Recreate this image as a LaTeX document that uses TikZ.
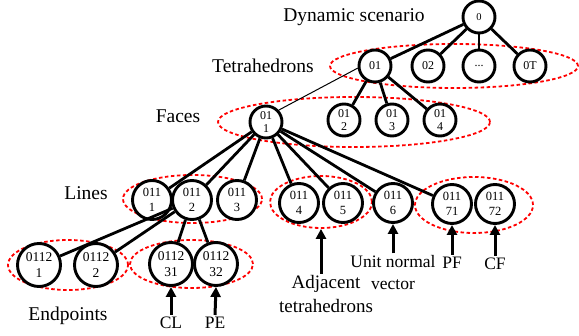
\documentclass[tikz,border=0pt]{standalone}
\usepackage{fontspec}
\setmainfont{Liberation Serif}
\usetikzlibrary{shapes.geometric,arrows.meta}

\begin{document}
\begin{tikzpicture}[x=1pt,y=-1pt,
  tn/.style={circle,draw,line width=2.9pt,fill=white,inner sep=0pt,align=center},
  small/.style={tn,minimum size=32pt,font=\fontsize{12}{13.5}\selectfont},
  mid/.style={tn,minimum size=39pt,font=\fontsize{12.5}{14.5}\selectfont},
  big/.style={tn,minimum size=43pt,font=\fontsize{13.5}{16}\selectfont},
  grp/.style={ellipse,draw=red,line width=1.8pt,dash pattern=on 3.5pt off 2.5pt,inner sep=0pt},
  level/.style={anchor=base,inner sep=0pt,font=\fontsize{19.5}{24}\selectfont},
  note/.style={anchor=north,inner sep=1.5pt,align=center,font=\fontsize{17.5}{22}\selectfont},
  link/.style={line width=2.8pt},
  thinlink/.style={line width=1pt},
  arr/.style={line width=3pt,-{Triangle[width=10pt,length=10pt]}}]
\useasboundingbox (0,0) rectangle (579,336);

% dashed groups
\node[grp,minimum width=248pt,minimum height=44pt] (gT) at (454,66) {};
\node[grp,minimum width=272pt,minimum height=50pt] (gF) at (354,122) {};
\node[grp,minimum width=139pt,minimum height=48pt] (gL) at (192.5,199) {};
\node[grp,minimum width=102pt,minimum height=52pt] (g45) at (321,202) {};
\node[grp,minimum width=118pt,minimum height=56pt] (g7) at (474,205) {};
\node[grp,minimum width=120pt,minimum height=50pt] (gE1) at (68,265) {};
\node[grp,minimum width=123pt,minimum height=48pt] (gE2) at (191.5,264) {};

% level labels
\node[level] (lDyn) at (354,22) {Dynamic scenario};
\node[level] (lTet) at (263,73) {Tetrahedrons};
\node[level] (lFac) at (178,123) {Faces};
\node[level] (lLin) at (86,200) {Lines};
\node[level] (lEnd) at (68,321) {Endpoints};

% tree nodes
\node[small,font=\fontsize{10.5}{12}\selectfont] (r) at (479,17) {0};
\node[small] (t1) at (375,66) {01};
\node[small] (t2) at (428,66) {02};
\node[small] (t3) at (479,66) {...};
\node[small] (tT) at (530,66) {0T};
\node[small] (f1) at (266,122) {01\\1};
\node[small] (f2) at (344,120) {01\\2};
\node[small] (f3) at (392,120) {01\\3};
\node[small] (f4) at (440,120) {01\\4};
\node[mid] (l1) at (152,200) {011\\1};
\node[mid] (l2) at (192,200) {011\\2};
\node[mid] (l3) at (237,200) {011\\3};
\node[mid] (l4) at (299,203) {011\\4};
\node[mid] (l5) at (343,203) {011\\5};
\node[mid] (l6) at (393,203) {011\\6};
\node[mid] (l71) at (452,204) {011\\71};
\node[mid] (l72) at (495,204) {011\\72};
\node[big] (e1) at (39,265) {0112\\1};
\node[big] (e2) at (96,265) {0112\\2};
\node[big] (e31) at (171,264) {0112\\31};
\node[big] (e32) at (216,264) {0112\\32};

% tree edges
\foreach \c in {t1,t2,t3,tT} \draw[link] (r) -- (\c);
\foreach \c in {f2,f3,f4} \draw[link] (t1) -- (\c);
\draw[thinlink] (t1.187) -- (f1.43);
\foreach \c in {l1,l2,l3,l4,l5,l6,l71} \draw[link] (f1) -- (\c);
\foreach \c in {e1,e2,e31,e32} \draw[link] (l2) -- (\c);

% annotations
\node[note,font=\fontsize{19}{24}\selectfont] (adj) at (326,274) {Adjacent\\tetrahedrons};
\node[note] (unv) at (393,253.5) {Unit normal\\vector};
\node[note] (pf) at (452,255) {PF};
\node[note] (cf) at (495,256) {CF};
\node[note] (cl) at (171,315) {CL};
\node[note] (pe) at (215,315) {PE};

\draw[arr] (adj.north -| g45.south) -- (g45.south);
\draw[arr] (unv.north) -- (l6.south);
\draw[arr] (pf.north) -- (l71.south);
\draw[arr] (cf.north) -- (l72.south);
\draw[arr] (cl.north) -- (e31.south);
\draw[arr] (pe.north) -- (e32.south);
\end{tikzpicture}
\end{document}
